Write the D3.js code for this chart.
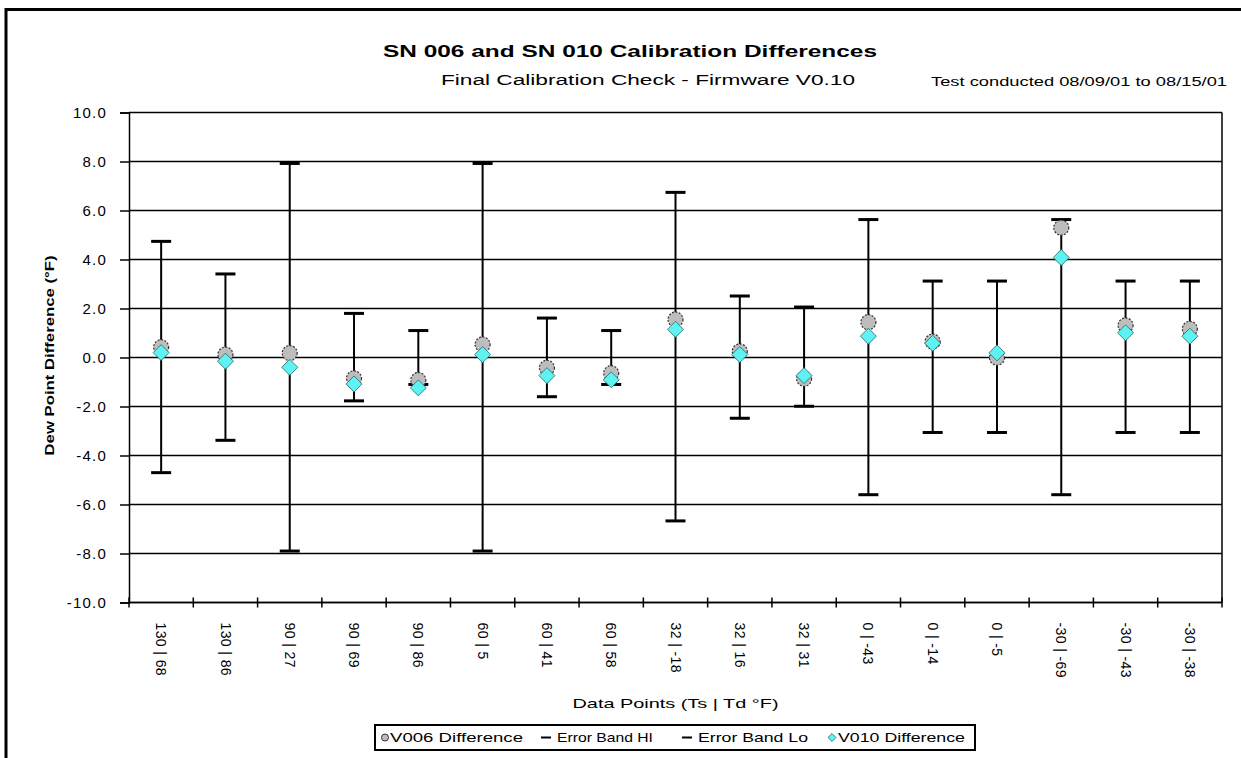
<!DOCTYPE html>
<html>
<head>
<meta charset="utf-8">
<script src="https://cdn.jsdelivr.net/npm/d3@7"></script>
<style>
  html, body { margin: 0; padding: 0; background: #fff; }
  svg { display: block; }
  text { font-family: Arial, "Liberation Sans", sans-serif; fill: #000; }
</style>
</head>
<body>
<svg id="chart" width="1241" height="758"></svg>
<script>
// ---- data ----
const categories = ["130 | 68", "130 | 86", "90 | 27", "90 | 69", "90 | 86", "60 | 5", "60 | 41", "60 | 58",
  "32 | -18", "32 | 16", "32 | 31", "0 | -43", "0 | -14", "0 | -5", "-30 | -69", "-30 | -43", "-30 | -38"];
const v006Diff = [0.42, 0.12, 0.18, -0.85, -0.92, 0.53, -0.42, -0.64, 1.55, 0.25, -0.87, 1.44, 0.65, -0.01, 5.3, 1.31, 1.17];
const v010Diff = [0.20, -0.15, -0.40, -1.08, -1.24, 0.12, -0.74, -0.91, 1.15, 0.12, -0.74, 0.87, 0.58, 0.19, 4.08, 1.01, 0.87];
const errorHi = [4.74, 3.41, 7.92, 1.80, 1.10, 7.92, 1.61, 1.10, 6.74, 2.51, 2.06, 5.63, 3.12, 3.12, 5.63, 3.12, 3.12];
const errorLo = [-4.70, -3.38, -7.90, -1.77, -1.10, -7.90, -1.60, -1.10, -6.67, -2.48, -1.99, -5.60, -3.06, -3.06, -5.60, -3.06, -3.06];
const yTicks = [-10, -8, -6, -4, -2, 0, 2, 4, 6, 8, 10];
const legendLabels = ["V006 Difference", "Error Band HI", "Error Band Lo", "V010 Difference"];

const title = "SN 006 and SN 010 Calibration Differences";
const subtitle = "Final Calibration Check - Firmware V0.10";
const testNote = "Test conducted 08/09/01 to 08/15/01";
const yTitle = "Dew Point Difference (°F)";
const xTitle = "Data Points  (Ts | Td  °F)";

// ---- layout ----
const svg = d3.select("#chart");
const W = 1241, H = 758;
const plot = { left: 129, right: 1222, top: 112.5, bottom: 602.5 };

svg.append("rect").attr("width", W).attr("height", H).attr("fill", "#fff");

// outer frame (left + top)
svg.append("path")
  .attr("d", `M6,${H} V9.5 H${W}`)
  .attr("fill", "none").attr("stroke", "#000").attr("stroke-width", 3);

const x = d3.scaleBand().domain(categories).range([plot.left, plot.right]);
const y = d3.scaleLinear().domain([-10, 10]).range([plot.bottom, plot.top]);

// gridlines
svg.append("g").selectAll("line").data(yTicks).join("line")
  .attr("x1", plot.left).attr("x2", plot.right)
  .attr("y1", d => y(d)).attr("y2", d => y(d))
  .attr("stroke", "#000").attr("stroke-width", 1.5);

// right border of plot
svg.append("line")
  .attr("x1", plot.right).attr("x2", plot.right)
  .attr("y1", plot.top).attr("y2", plot.bottom)
  .attr("stroke", "#000").attr("stroke-width", 1.5);

// y axis
const yAxis = svg.append("g").attr("transform", `translate(${plot.left},0)`)
  .call(d3.axisLeft(y).tickValues(yTicks).tickFormat(d => d.toFixed(1)).tickSize(9).tickPadding(13));
yAxis.select(".domain").attr("stroke", "#000").attr("stroke-width", 1.5);
yAxis.selectAll(".tick line").attr("stroke", "#000").attr("stroke-width", 1.5);
yAxis.selectAll(".tick text")
  .style("font-family", "Arial, 'Liberation Sans', sans-serif")
  .style("font-size", "15px").style("letter-spacing", "1.2px").attr("fill", "#222");

// x axis (ticks at band boundaries, crossing the axis)
const xAxisG = svg.append("g");
xAxisG.append("line")
  .attr("x1", plot.left).attr("x2", plot.right)
  .attr("y1", plot.bottom).attr("y2", plot.bottom)
  .attr("stroke", "#000").attr("stroke-width", 1.5);
const boundaries = categories.map(c => x(c)).concat([x(categories[categories.length - 1]) + x.bandwidth()]);
xAxisG.selectAll("line.tk").data(boundaries).join("line").attr("class", "tk")
  .attr("x1", d => d).attr("x2", d => d)
  .attr("y1", plot.bottom - 5).attr("y2", plot.bottom + 5)
  .attr("stroke", "#000").attr("stroke-width", 1.5);
xAxisG.selectAll("text").data(categories).join("text")
  .attr("transform", d => `translate(${x(d) + x.bandwidth() / 2},${plot.bottom + 20}) rotate(90)`)
  .attr("dy", "0.35em")
  .attr("text-anchor", "start")
  .style("font-size", "14px").style("letter-spacing", "0.4px").attr("fill", "#222")
  .text(d => d);

// error bars
const eb = svg.append("g");
const capW = 20;
eb.selectAll("line.stem").data(categories).join("line").attr("class", "stem")
  .attr("x1", d => x(d) + x.bandwidth() / 2).attr("x2", d => x(d) + x.bandwidth() / 2)
  .attr("y1", (d, i) => y(errorHi[i])).attr("y2", (d, i) => y(errorLo[i]))
  .attr("stroke", "#000").attr("stroke-width", 2);
eb.selectAll("line.hi").data(categories).join("line").attr("class", "hi")
  .attr("x1", d => x(d) + x.bandwidth() / 2 - capW / 2).attr("x2", d => x(d) + x.bandwidth() / 2 + capW / 2)
  .attr("y1", (d, i) => y(errorHi[i])).attr("y2", (d, i) => y(errorHi[i]))
  .attr("stroke", "#000").attr("stroke-width", 3);
eb.selectAll("line.lo").data(categories).join("line").attr("class", "lo")
  .attr("x1", d => x(d) + x.bandwidth() / 2 - capW / 2).attr("x2", d => x(d) + x.bandwidth() / 2 + capW / 2)
  .attr("y1", (d, i) => y(errorLo[i])).attr("y2", (d, i) => y(errorLo[i]))
  .attr("stroke", "#000").attr("stroke-width", 3);

// V006 markers (grey circles)
svg.append("g").selectAll("circle").data(categories).join("circle")
  .attr("cx", d => x(d) + x.bandwidth() / 2)
  .attr("cy", (d, i) => y(v006Diff[i]))
  .attr("r", 7.5)
  .attr("fill", "#bdbdbd").attr("stroke", "#333").attr("stroke-width", 1.2)
  .attr("stroke-dasharray", "2,1.5");

// V010 markers (cyan diamonds)
const diamond = d3.symbol().type(d3.symbolSquare).size(128);
svg.append("g").selectAll("path").data(categories).join("path")
  .attr("d", diamond)
  .attr("transform", (d, i) => `translate(${x(d) + x.bandwidth() / 2},${y(v010Diff[i])}) rotate(45)`)
  .attr("fill", "#5ff2f2").attr("stroke", "#2a6f6f").attr("stroke-width", 0.8);

// titles
svg.append("text").attr("x", 630).attr("y", 57).attr("text-anchor", "middle")
  .style("font-size", "17px").style("font-weight", "bold")
  .attr("textLength", 494).attr("lengthAdjust", "spacingAndGlyphs")
  .text(title);
svg.append("text").attr("x", 648).attr("y", 85).attr("text-anchor", "middle")
  .style("font-size", "14px")
  .attr("textLength", 414).attr("lengthAdjust", "spacingAndGlyphs")
  .text(subtitle);
svg.append("text").attr("x", 1079).attr("y", 86).attr("text-anchor", "middle")
  .style("font-size", "12px")
  .attr("textLength", 296).attr("lengthAdjust", "spacingAndGlyphs")
  .text(testNote);

// y title
svg.append("text")
  .attr("transform", `translate(50,${(plot.top + plot.bottom) / 2 - 2}) rotate(-90)`)
  .attr("text-anchor", "middle").attr("dy", "0.35em")
  .style("font-size", "12px").style("font-weight", "bold")
  .attr("textLength", 200).attr("lengthAdjust", "spacingAndGlyphs")
  .text(yTitle);

// x title (centred on plot area)
svg.append("text").attr("x", (plot.left + plot.right) / 2).attr("y", 708).attr("text-anchor", "middle")
  .style("font-size", "13px")
  .attr("textLength", 206).attr("lengthAdjust", "spacingAndGlyphs")
  .text(xTitle);

// legend
const lg = svg.append("g");
const lgBox = { x: 375, y: 725, w: 600, h: 25 };
lg.append("rect").attr("x", lgBox.x).attr("y", lgBox.y).attr("width", lgBox.w).attr("height", lgBox.h)
  .attr("fill", "#fff").attr("stroke", "#000").attr("stroke-width", 2);
const lgSym = [385, 546, 687, 832];
const lgTextX = [390, 557, 698, 838];
const lgTextW = [133, 96, 110, 127];
const ly = lgBox.y + lgBox.h / 2;
legendLabels.forEach((lab, i) => {
  const gx = lgSym[i];
  if (i === 0) {
    lg.append("circle").attr("cx", gx).attr("cy", ly).attr("r", 3.5)
      .attr("fill", "#bdbdbd").attr("stroke", "#333").attr("stroke-width", 1);
  } else if (i === 3) {
    lg.append("path").attr("d", d3.symbol().type(d3.symbolSquare).size(32))
      .attr("transform", `translate(${gx},${ly}) rotate(45)`)
      .attr("fill", "#5ff2f2").attr("stroke", "#2a6f6f").attr("stroke-width", 0.8);
  } else {
    lg.append("line").attr("x1", gx - 5).attr("x2", gx + 5).attr("y1", ly).attr("y2", ly)
      .attr("stroke", "#000").attr("stroke-width", 2);
  }
  lg.append("text").attr("x", lgTextX[i]).attr("y", ly).attr("dy", "0.36em")
    .style("font-size", "13px")
    .attr("textLength", lgTextW[i]).attr("lengthAdjust", "spacingAndGlyphs")
    .text(lab);
});
</script>
</body>
</html>
